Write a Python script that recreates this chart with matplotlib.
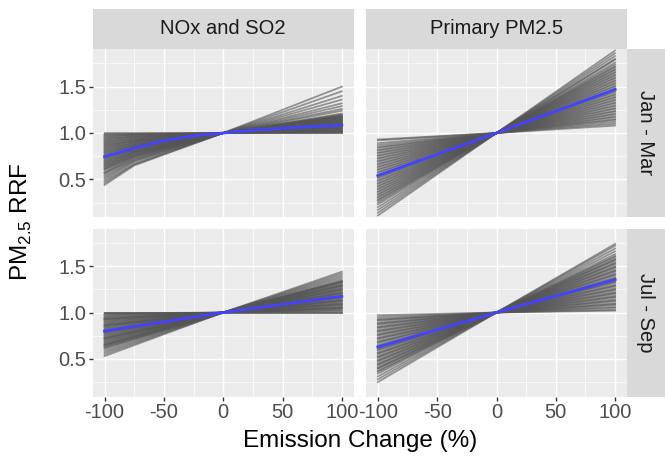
import matplotlib
matplotlib.use('Agg')
import matplotlib.pyplot as plt

plt.rcParams['font.family'] = ['Liberation Sans', 'DejaVu Sans']
plt.rcParams['mathtext.fontset'] = 'custom'
plt.rcParams['mathtext.rm'] = 'Liberation Sans'

# ---------------- data ----------------
pollutants = ['NOx and SO2', 'Primary PM2.5']
seasons = ['Jan - Mar', 'Jul - Sep']
x_ticks = [-100, -50, 0, 50, 100]
x_ticklabels = ['-100', '-50', '0', '50', '100']
y_ticks = [0.5, 1.0, 1.5]
y_ticklabels = ['0.5', '1.0', '1.5']
base_rrf = 1.0

# member RRFs, NOx and SO2, Jan - Mar (nodes -100, -75, 0, +100)
nox_jan_m100 = [0.44, 0.46, 0.48, 0.50, 0.52, 0.54, 0.56, 0.57, 0.58, 0.60,
                0.61, 0.62, 0.63, 0.64, 0.65, 0.66, 0.67, 0.68, 0.69, 0.70,
                0.71, 0.72, 0.73, 0.74, 0.75, 0.76, 0.77, 0.78, 0.79, 0.80,
                0.81, 0.82, 0.83, 0.84, 0.85, 0.86, 0.87, 0.88, 0.89, 0.90,
                0.91, 0.92, 0.93, 0.94, 0.95, 0.96, 0.97, 0.98, 0.99, 1.00]
nox_jan_m75 = [0.65, 0.66, 0.67, 0.69, 0.70, 0.71, 0.72, 0.73, 0.74, 0.75,
               0.75, 0.76, 0.77, 0.77, 0.78, 0.79, 0.79, 0.80, 0.80, 0.81,
               0.82, 0.82, 0.83, 0.84, 0.84, 0.85, 0.86, 0.86, 0.87, 0.87,
               0.88, 0.89, 0.89, 0.90, 0.91, 0.91, 0.92, 0.92, 0.93, 0.94,
               0.94, 0.95, 0.96, 0.96, 0.97, 0.98, 0.98, 0.99, 0.99, 1.00]
nox_jan_p100 = [1.50, 1.45, 1.40, 1.36, 1.32, 1.29, 1.26, 1.24, 1.21, 1.20,
                1.19, 1.19, 1.18, 1.18, 1.17, 1.17, 1.16, 1.16, 1.15, 1.15,
                1.14, 1.14, 1.13, 1.13, 1.12, 1.12, 1.11, 1.11, 1.10, 1.10,
                1.09, 1.09, 1.08, 1.08, 1.07, 1.07, 1.06, 1.06, 1.05, 1.05,
                1.04, 1.04, 1.03, 1.03, 1.02, 1.02, 1.01, 1.01, 1.00, 1.00]

# member RRFs, Primary PM2.5, Jan - Mar (nodes -100, 0, +100)
pm_jan_m100 = [0.11, 0.14, 0.17, 0.20, 0.23, 0.25, 0.27, 0.28, 0.30, 0.31,
               0.33, 0.34, 0.36, 0.37, 0.39, 0.40, 0.42, 0.43, 0.45, 0.46,
               0.48, 0.49, 0.51, 0.52, 0.54, 0.55, 0.57, 0.58, 0.60, 0.61,
               0.63, 0.64, 0.66, 0.67, 0.69, 0.70, 0.72, 0.73, 0.75, 0.76,
               0.78, 0.79, 0.81, 0.82, 0.84, 0.85, 0.87, 0.89, 0.92, 0.93]
pm_jan_p100 = [1.89, 1.86, 1.83, 1.80, 1.79, 1.76, 1.74, 1.72, 1.71, 1.69,
               1.68, 1.66, 1.65, 1.63, 1.62, 1.60, 1.59, 1.57, 1.56, 1.54,
               1.53, 1.51, 1.50, 1.48, 1.47, 1.45, 1.44, 1.42, 1.41, 1.39,
               1.38, 1.36, 1.35, 1.33, 1.32, 1.30, 1.29, 1.27, 1.26, 1.24,
               1.23, 1.21, 1.20, 1.18, 1.17, 1.15, 1.14, 1.12, 1.10, 1.08]

# member RRFs, NOx and SO2, Jul - Sep
nox_jul_m100 = [0.53, 0.55, 0.57, 0.59, 0.61, 0.62, 0.63, 0.64, 0.65, 0.65,
                0.66, 0.67, 0.68, 0.69, 0.70, 0.71, 0.72, 0.72, 0.73, 0.74,
                0.75, 0.76, 0.77, 0.78, 0.79, 0.79, 0.80, 0.81, 0.82, 0.83,
                0.84, 0.85, 0.86, 0.86, 0.87, 0.88, 0.89, 0.90, 0.91, 0.92,
                0.93, 0.93, 0.94, 0.95, 0.96, 0.97, 0.98, 0.99, 1.00, 1.00]
nox_jul_p100 = [1.44, 1.42, 1.40, 1.38, 1.36, 1.34, 1.34, 1.33, 1.33, 1.32,
                1.31, 1.30, 1.29, 1.29, 1.28, 1.27, 1.26, 1.25, 1.25, 1.24,
                1.23, 1.22, 1.21, 1.21, 1.20, 1.19, 1.18, 1.17, 1.17, 1.16,
                1.15, 1.14, 1.13, 1.13, 1.12, 1.11, 1.10, 1.09, 1.09, 1.08,
                1.07, 1.06, 1.05, 1.05, 1.04, 1.03, 1.02, 1.01, 1.00, 1.00]

# member RRFs, Primary PM2.5, Jul - Sep
pm_jul_m100 = [0.25, 0.28, 0.31, 0.34, 0.36, 0.37, 0.39, 0.40, 0.41, 0.43,
               0.44, 0.45, 0.47, 0.48, 0.49, 0.51, 0.52, 0.53, 0.55, 0.56,
               0.57, 0.59, 0.60, 0.61, 0.63, 0.64, 0.65, 0.67, 0.68, 0.69,
               0.71, 0.72, 0.73, 0.75, 0.76, 0.77, 0.79, 0.80, 0.81, 0.83,
               0.84, 0.85, 0.87, 0.88, 0.89, 0.91, 0.92, 0.93, 0.95, 0.97]
pm_jul_p100 = [1.74, 1.72, 1.69, 1.66, 1.63, 1.61, 1.60, 1.58, 1.57, 1.56,
               1.54, 1.53, 1.52, 1.50, 1.49, 1.48, 1.46, 1.45, 1.44, 1.42,
               1.41, 1.40, 1.38, 1.37, 1.36, 1.34, 1.33, 1.32, 1.30, 1.29,
               1.28, 1.26, 1.25, 1.24, 1.22, 1.21, 1.20, 1.18, 1.17, 1.16,
               1.14, 1.13, 1.12, 1.10, 1.09, 1.08, 1.06, 1.05, 1.03, 1.02]

# central (blue) estimates
blue_x_nox_jan = [-100, -75, -50, -25, 0, 25, 50, 75, 100]
blue_nox_jan = [0.745, 0.836, 0.918, 0.97, 1.0, 1.03, 1.05, 1.068, 1.086]
blue_x = [-100, 0, 100]
blue_pm_jan = [0.54, 1.0, 1.47]
blue_nox_jul = [0.80, 1.0, 1.175]
blue_pm_jul = [0.627, 1.0, 1.355]

# ---------------- figure ----------------
W, H = 665, 457
fig = plt.figure(figsize=(W / 100, H / 100), dpi=100)

col_x0 = [92.7, 366.0]
pw = 261.0
row_top = [49.0, 228.5]
ph = 168.0

member_color = '#555555'
blue = '#4343FF'
tick_fs = 14.5


def make_axes(r, c):
    x0 = col_x0[c]
    y0 = row_top[r] + ph
    ax = fig.add_axes([x0 / W, 1 - y0 / H, pw / W, ph / H])
    ax.set_facecolor('#EBEBEB')
    for s in ax.spines.values():
        s.set_visible(False)
    ax.set_xlim(-110, 110)
    ax.set_ylim(0.094, 1.906)
    ax.set_xticks(x_ticks)
    ax.set_yticks(y_ticks)
    ax.set_xticks([-75, -25, 25, 75], minor=True)
    ax.set_yticks([0.25, 0.75, 1.25, 1.75], minor=True)
    ax.grid(which='major', color='white', lw=1.05)
    ax.grid(which='minor', color='white', lw=0.5)
    ax.set_axisbelow(True)
    ax.tick_params(which='minor', length=0)
    ax.tick_params(which='major', length=2.8, width=1.0, color='#333333',
                   labelcolor='#4D4D4D', labelsize=tick_fs, pad=2)
    if c == 0:
        ax.set_yticklabels(y_ticklabels)
    else:
        ax.tick_params(axis='y', length=0, labelleft=False)
    if r == 1:
        ax.set_xticklabels(x_ticklabels)
    else:
        ax.tick_params(axis='x', length=0, labelbottom=False)
    return ax


def draw_members(ax, xs_list, ys_list):
    for xs, ys in zip(xs_list, ys_list):
        ax.plot(xs, ys, color=member_color, lw=1.3, alpha=0.6,
                solid_joinstyle='round')


# Top-left: NOx, Jan - Mar
ax = make_axes(0, 0)
draw_members(ax,
             [[-100, -75, 0, 100]] * len(nox_jan_m100),
             [[a, b, base_rrf, c] for a, b, c in zip(nox_jan_m100, nox_jan_m75, nox_jan_p100)])
ax.plot(blue_x_nox_jan, blue_nox_jan, color=blue, lw=2.0)

# Top-right: PM2.5, Jan - Mar
ax = make_axes(0, 1)
draw_members(ax,
             [[-100, 0, 100]] * len(pm_jan_m100),
             [[a, base_rrf, c] for a, c in zip(pm_jan_m100, pm_jan_p100)])
ax.plot(blue_x, blue_pm_jan, color=blue, lw=2.0)

# Bottom-left: NOx, Jul - Sep
ax = make_axes(1, 0)
draw_members(ax,
             [[-100, 0, 100]] * len(nox_jul_m100),
             [[a, base_rrf, c] for a, c in zip(nox_jul_m100, nox_jul_p100)])
ax.plot(blue_x, blue_nox_jul, color=blue, lw=2.0)

# Bottom-right: PM2.5, Jul - Sep
ax = make_axes(1, 1)
draw_members(ax,
             [[-100, 0, 100]] * len(pm_jul_m100),
             [[a, base_rrf, c] for a, c in zip(pm_jul_m100, pm_jul_p100)])
ax.plot(blue_x, blue_pm_jul, color=blue, lw=2.0)

# strips
strip_color = '#D9D9D9'
for c, name in enumerate(pollutants):
    sa = fig.add_axes([col_x0[c] / W, 1 - 49.0 / H, pw / W, 40.0 / H])
    sa.set_facecolor(strip_color)
    sa.set_xticks([]); sa.set_yticks([])
    for s in sa.spines.values():
        s.set_visible(False)
    sa.text(0.5, 0.5, name, ha='center', va='center', fontsize=tick_fs,
            color='#1A1A1A', transform=sa.transAxes)
for r, name in enumerate(seasons):
    sa = fig.add_axes([627.0 / W, 1 - (row_top[r] + ph) / H, 38.0 / W, ph / H])
    sa.set_facecolor(strip_color)
    sa.set_xticks([]); sa.set_yticks([])
    for s in sa.spines.values():
        s.set_visible(False)
    sa.text(0.5, 0.5, name, ha='center', va='center', fontsize=tick_fs,
            rotation=-90, color='#1A1A1A', transform=sa.transAxes)

# axis titles
fig.text(360 / W, 1 - 441 / H, 'Emission Change (%)', ha='center', va='center',
         fontsize=17.5, color='black')
fig.text(21 / W, 1 - 222 / H, r'PM$_{\mathregular{2.5}}$ RRF', ha='center',
         va='center', rotation=90, fontsize=17.5, color='black')

fig.savefig('out.png', dpi=100)
